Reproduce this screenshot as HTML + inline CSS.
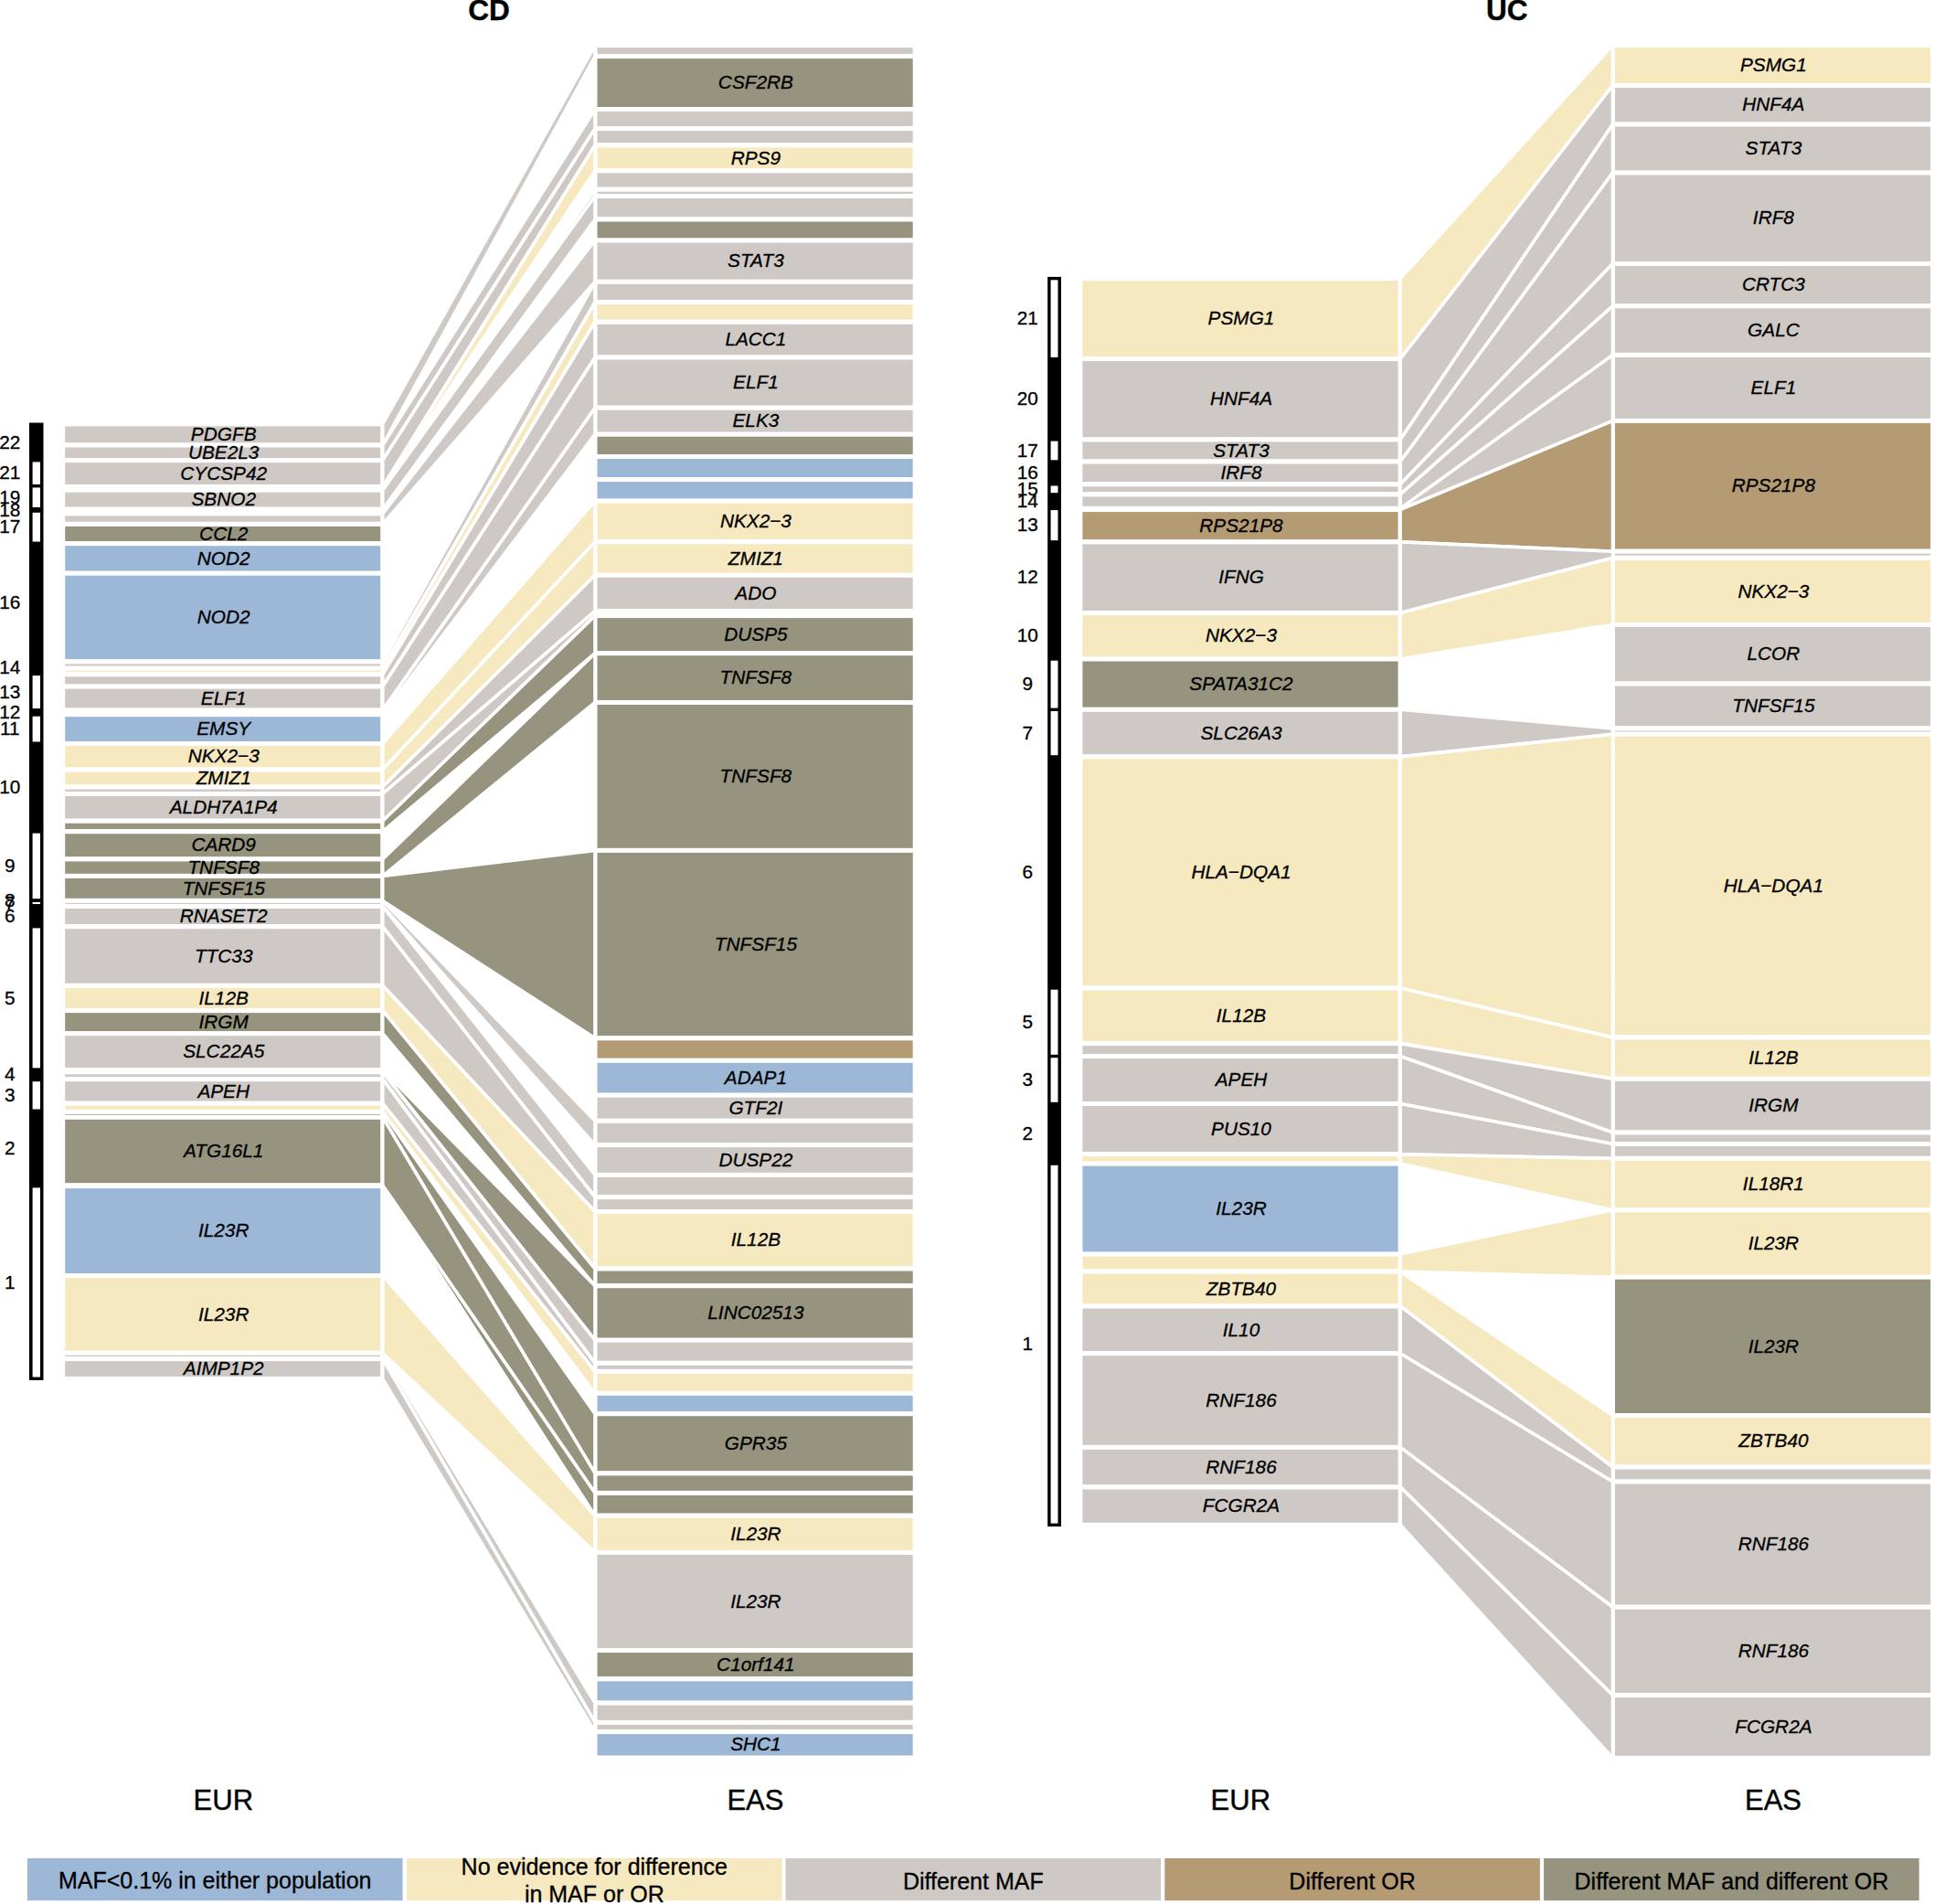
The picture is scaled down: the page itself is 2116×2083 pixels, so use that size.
<!DOCTYPE html>
<html lang="en"><head><meta charset="utf-8"><title>CD / UC loci comparison EUR vs EAS</title>
<style>
html,body{margin:0;padding:0;background:#fff}
body{width:2116px;height:2083px;overflow:hidden}
svg{display:block}
text{font-family:"Liberation Sans",Arial,Helvetica,sans-serif;fill:#000;text-anchor:middle;stroke:#000;stroke-width:.3px;stroke-linejoin:round}
.gene text{font-size:20.8px;font-style:italic}
.chr text{font-size:20.8px}
.ttl text{font-size:31.5px;font-weight:bold;stroke-width:.4px}
.pop text{font-size:31px;stroke-width:.4px}
.leg text{font-size:25px}
</style></head><body>
<svg width="2116" height="2083" viewBox="0 0 2116 2083">
<rect width="2116" height="2083" fill="#fff"/>
<g stroke="#fff" stroke-width="5">
<rect x="68.7" y="463.9" width="350" height="23.1" fill="#cfc9c6"/>
<rect x="68.7" y="487" width="350" height="16.6" fill="#cfc9c6"/>
<rect x="68.7" y="503.6" width="350" height="29" fill="#cfc9c6"/>
<rect x="68.7" y="532.6" width="350" height="2" fill="#f6e8bf"/>
<rect x="68.7" y="534.6" width="350" height="1.6" fill="#cfc9c6"/>
<rect x="68.7" y="536.2" width="350" height="21" fill="#cfc9c6"/>
<rect x="68.7" y="557.2" width="350" height="4.7" fill="#cfc9c6"/>
<rect x="68.7" y="561.9" width="350" height="11.5" fill="#cfc9c6"/>
<rect x="68.7" y="573.4" width="350" height="21.3" fill="#96947e"/>
<rect x="68.7" y="594.7" width="350" height="32.5" fill="#9db7d7"/>
<rect x="68.7" y="627.2" width="350" height="96.7" fill="#9db7d7"/>
<rect x="68.7" y="723.9" width="350" height="7.3" fill="#cfc9c6"/>
<rect x="68.7" y="731.2" width="350" height="6.6" fill="#f6e8bf"/>
<rect x="68.7" y="737.8" width="350" height="13.3" fill="#cfc9c6"/>
<rect x="68.7" y="751.1" width="350" height="26" fill="#cfc9c6"/>
<rect x="68.7" y="777.1" width="350" height="4.6" fill="#cfc9c6"/>
<rect x="68.7" y="781.7" width="350" height="31.8" fill="#9db7d7"/>
<rect x="68.7" y="813.5" width="350" height="28.5" fill="#f6e8bf"/>
<rect x="68.7" y="842" width="350" height="19" fill="#f6e8bf"/>
<rect x="68.7" y="861" width="350" height="7.5" fill="#cfc9c6"/>
<rect x="68.7" y="868.5" width="350" height="29.7" fill="#cfc9c6"/>
<rect x="68.7" y="898.2" width="350" height="11.5" fill="#96947e"/>
<rect x="68.7" y="909.7" width="350" height="30.2" fill="#96947e"/>
<rect x="68.7" y="939.9" width="350" height="18.5" fill="#96947e"/>
<rect x="68.7" y="958.4" width="350" height="27" fill="#96947e"/>
<rect x="68.7" y="985.4" width="350" height="6.1" fill="#cfc9c6"/>
<rect x="68.7" y="991.5" width="350" height="22.2" fill="#cfc9c6"/>
<rect x="68.7" y="1013.7" width="350" height="64.6" fill="#cfc9c6"/>
<rect x="68.7" y="1078.3" width="350" height="27.3" fill="#f6e8bf"/>
<rect x="68.7" y="1105.6" width="350" height="25.1" fill="#96947e"/>
<rect x="68.7" y="1130.7" width="350" height="39.8" fill="#cfc9c6"/>
<rect x="68.7" y="1170.5" width="350" height="2.3" fill="#96947e"/>
<rect x="68.7" y="1172.8" width="350" height="7.9" fill="#cfc9c6"/>
<rect x="68.7" y="1180.7" width="350" height="26.5" fill="#cfc9c6"/>
<rect x="68.7" y="1207.2" width="350" height="9.2" fill="#f6e8bf"/>
<rect x="68.7" y="1216.4" width="350" height="5.9" fill="#96947e"/>
<rect x="68.7" y="1222.3" width="350" height="74.6" fill="#96947e"/>
<rect x="68.7" y="1296.9" width="350" height="0.7" fill="#96947e"/>
<rect x="68.7" y="1297.6" width="350" height="97.9" fill="#9db7d7"/>
<rect x="68.7" y="1395.5" width="350" height="84.7" fill="#f6e8bf"/>
<rect x="68.7" y="1480.2" width="350" height="6.4" fill="#cfc9c6"/>
<rect x="68.7" y="1486.6" width="350" height="21.9" fill="#cfc9c6"/>
<rect x="651" y="49.6" width="350.2" height="12" fill="#cfc9c6"/>
<rect x="651" y="61.6" width="350.2" height="57.9" fill="#96947e"/>
<rect x="651" y="119.5" width="350.2" height="21.1" fill="#cfc9c6"/>
<rect x="651" y="140.6" width="350.2" height="18.3" fill="#cfc9c6"/>
<rect x="651" y="158.9" width="350.2" height="27.9" fill="#f6e8bf"/>
<rect x="651" y="186.8" width="350.2" height="20.4" fill="#cfc9c6"/>
<rect x="651" y="207.2" width="350.2" height="7.3" fill="#cfc9c6"/>
<rect x="651" y="214.5" width="350.2" height="25.5" fill="#cfc9c6"/>
<rect x="651" y="240" width="350.2" height="23" fill="#96947e"/>
<rect x="651" y="263" width="350.2" height="45.3" fill="#cfc9c6"/>
<rect x="651" y="308.3" width="350.2" height="22.4" fill="#cfc9c6"/>
<rect x="651" y="330.7" width="350.2" height="21.6" fill="#f6e8bf"/>
<rect x="651" y="352.3" width="350.2" height="38.7" fill="#cfc9c6"/>
<rect x="651" y="391" width="350.2" height="55.2" fill="#cfc9c6"/>
<rect x="651" y="446.2" width="350.2" height="29" fill="#cfc9c6"/>
<rect x="651" y="475.2" width="350.2" height="24.3" fill="#96947e"/>
<rect x="651" y="499.5" width="350.2" height="25.1" fill="#9db7d7"/>
<rect x="651" y="524.6" width="350.2" height="23.5" fill="#9db7d7"/>
<rect x="651" y="548.1" width="350.2" height="44.6" fill="#f6e8bf"/>
<rect x="651" y="592.7" width="350.2" height="36.6" fill="#f6e8bf"/>
<rect x="651" y="629.3" width="350.2" height="39.2" fill="#cfc9c6"/>
<rect x="651" y="668.5" width="350.2" height="5.1" fill="#cfc9c6"/>
<rect x="651" y="673.6" width="350.2" height="41.1" fill="#96947e"/>
<rect x="651" y="714.7" width="350.2" height="53.8" fill="#96947e"/>
<rect x="651" y="768.5" width="350.2" height="161.9" fill="#96947e"/>
<rect x="651" y="930.4" width="350.2" height="205.4" fill="#96947e"/>
<rect x="651" y="1135.8" width="350.2" height="24.5" fill="#b59b74"/>
<rect x="651" y="1160.3" width="350.2" height="37.9" fill="#9db7d7"/>
<rect x="651" y="1198.2" width="350.2" height="28.1" fill="#cfc9c6"/>
<rect x="651" y="1226.3" width="350.2" height="26.3" fill="#cfc9c6"/>
<rect x="651" y="1252.6" width="350.2" height="32.8" fill="#cfc9c6"/>
<rect x="651" y="1285.4" width="350.2" height="24.3" fill="#cfc9c6"/>
<rect x="651" y="1309.7" width="350.2" height="15.9" fill="#cfc9c6"/>
<rect x="651" y="1325.6" width="350.2" height="62.4" fill="#f6e8bf"/>
<rect x="651" y="1388" width="350.2" height="18.7" fill="#96947e"/>
<rect x="651" y="1406.7" width="350.2" height="59.5" fill="#96947e"/>
<rect x="651" y="1466.2" width="350.2" height="25.1" fill="#cfc9c6"/>
<rect x="651" y="1491.3" width="350.2" height="9.1" fill="#cfc9c6"/>
<rect x="651" y="1500.4" width="350.2" height="23.9" fill="#f6e8bf"/>
<rect x="651" y="1524.3" width="350.2" height="22.4" fill="#9db7d7"/>
<rect x="651" y="1546.7" width="350.2" height="65.2" fill="#96947e"/>
<rect x="651" y="1611.9" width="350.2" height="21.5" fill="#96947e"/>
<rect x="651" y="1633.4" width="350.2" height="24.8" fill="#96947e"/>
<rect x="651" y="1658.2" width="350.2" height="40.2" fill="#f6e8bf"/>
<rect x="651" y="1698.4" width="350.2" height="107.1" fill="#cfc9c6"/>
<rect x="651" y="1805.5" width="350.2" height="31.3" fill="#96947e"/>
<rect x="651" y="1836.8" width="350.2" height="26.3" fill="#9db7d7"/>
<rect x="651" y="1863.1" width="350.2" height="21.3" fill="#cfc9c6"/>
<rect x="651" y="1884.4" width="350.2" height="10.2" fill="#cfc9c6"/>
<rect x="651" y="1894.6" width="350.2" height="28.4" fill="#9db7d7"/>
</g>
<g stroke="#fff" stroke-width="3.6" stroke-linejoin="miter">
<path fill="#cfc9c6" d="M418.7 463.9L651 49.6L651 61.6L418.7 487Z"/>
<path fill="#cfc9c6" d="M418.7 487L651 119.5L651 140.6L418.7 503.6Z"/>
<path fill="#cfc9c6" d="M418.7 503.6L651 140.6L651 158.9L418.7 532.6Z"/>
<path fill="#f6e8bf" d="M418.7 532.6L651 158.9L651 186.8L418.7 534.6Z"/>
<path fill="#cfc9c6" d="M418.7 534.6L651 207.2L651 214.5L418.7 536.2Z"/>
<path fill="#cfc9c6" d="M418.7 536.2L651 214.5L651 240L418.7 557.2Z"/>
<path fill="#cfc9c6" d="M418.7 561.9L651 263L651 308.3L418.7 573.4Z"/>
<path fill="#cfc9c6" d="M418.7 723.9L651 308.3L651 330.7L418.7 731.2Z"/>
<path fill="#f6e8bf" d="M418.7 731.2L651 330.7L651 352.3L418.7 737.8Z"/>
<path fill="#cfc9c6" d="M418.7 737.8L651 352.3L651 391L418.7 751.1Z"/>
<path fill="#cfc9c6" d="M418.7 751.1L651 391L651 446.2L418.7 777.1Z"/>
<path fill="#cfc9c6" d="M418.7 777.1L651 446.2L651 475.2L418.7 781.7Z"/>
<path fill="#f6e8bf" d="M418.7 813.5L651 548.1L651 592.7L418.7 842Z"/>
<path fill="#f6e8bf" d="M418.7 842L651 592.7L651 629.3L418.7 861Z"/>
<path fill="#cfc9c6" d="M418.7 861L651 629.3L651 668.5L418.7 868.5Z"/>
<path fill="#cfc9c6" d="M418.7 868.5L651 668.5L651 673.6L418.7 898.2Z"/>
<path fill="#96947e" d="M418.7 898.2L651 673.6L651 714.7L418.7 909.7Z"/>
<path fill="#96947e" d="M418.7 939.9L651 714.7L651 768.5L418.7 958.4Z"/>
<path fill="#96947e" d="M418.7 958.4L651 930.4L651 1135.8L418.7 985.4Z"/>
<path fill="#cfc9c6" d="M418.7 985.4L651 1226.3L651 1252.6L418.7 991.5Z"/>
<path fill="#cfc9c6" d="M418.7 991.5L651 1285.4L651 1309.7L418.7 1013.7Z"/>
<path fill="#cfc9c6" d="M418.7 1013.7L651 1309.7L651 1325.6L418.7 1078.3Z"/>
<path fill="#f6e8bf" d="M418.7 1078.3L651 1325.6L651 1388L418.7 1105.6Z"/>
<path fill="#96947e" d="M418.7 1105.6L651 1388L651 1406.7L418.7 1130.7Z"/>
<path fill="#96947e" d="M418.7 1170.5L651 1406.7L651 1466.2L418.7 1172.8Z"/>
<path fill="#cfc9c6" d="M418.7 1172.8L651 1466.2L651 1491.3L418.7 1180.7Z"/>
<path fill="#cfc9c6" d="M418.7 1180.7L651 1491.3L651 1500.4L418.7 1207.2Z"/>
<path fill="#f6e8bf" d="M418.7 1207.2L651 1500.4L651 1524.3L418.7 1216.4Z"/>
<path fill="#96947e" d="M418.7 1216.4L651 1546.7L651 1611.9L418.7 1222.3Z"/>
<path fill="#96947e" d="M418.7 1222.3L651 1611.9L651 1633.4L418.7 1296.9Z"/>
<path fill="#96947e" d="M418.7 1296.9L651 1633.4L651 1658.2L418.7 1297.6Z"/>
<path fill="#f6e8bf" d="M418.7 1395.5L651 1658.2L651 1698.4L418.7 1480.2Z"/>
<path fill="#cfc9c6" d="M418.7 1480.2L651 1863.1L651 1884.4L418.7 1486.6Z"/>
<path fill="#cfc9c6" d="M418.7 1486.6L651 1884.4L651 1894.6L418.7 1508.5Z"/>
</g>
<g class="gene">
<text x="244.7" y="482.1">PDGFB</text>
<text x="244.7" y="501.9">UBE2L3</text>
<text x="244.7" y="524.7">CYCSP42</text>
<text x="244.7" y="553.3">SBNO2</text>
<text x="244.7" y="590.7">CCL2</text>
<text x="244.7" y="617.6">NOD2</text>
<text x="244.7" y="682.2">NOD2</text>
<text x="244.7" y="770.7">ELF1</text>
<text x="244.7" y="804.2">EMSY</text>
<text x="244.7" y="834.4">NKX2−3</text>
<text x="244.7" y="858.1">ZMIZ1</text>
<text x="244.7" y="890">ALDH7A1P4</text>
<text x="244.7" y="931.4">CARD9</text>
<text x="244.7" y="955.8">TNFSF8</text>
<text x="244.7" y="978.5">TNFSF15</text>
<text x="244.7" y="1009.2">RNASET2</text>
<text x="244.7" y="1052.6">TTC33</text>
<text x="244.7" y="1098.6">IL12B</text>
<text x="244.7" y="1124.8">IRGM</text>
<text x="244.7" y="1157.2">SLC22A5</text>
<text x="244.7" y="1200.6">APEH</text>
<text x="244.7" y="1266.2">ATG16L1</text>
<text x="244.7" y="1353.2">IL23R</text>
<text x="244.7" y="1444.5">IL23R</text>
<text x="244.7" y="1504.2">AIMP1P2</text>
<text x="826.9" y="97.2">CSF2RB</text>
<text x="826.9" y="179.5">RPS9</text>
<text x="826.9" y="292.3">STAT3</text>
<text x="826.9" y="378.3">LACC1</text>
<text x="826.9" y="425.2">ELF1</text>
<text x="826.9" y="467.3">ELK3</text>
<text x="826.9" y="577">NKX2−3</text>
<text x="826.9" y="617.6">ZMIZ1</text>
<text x="826.9" y="655.5">ADO</text>
<text x="826.9" y="700.8">DUSP5</text>
<text x="826.9" y="748.2">TNFSF8</text>
<text x="826.9" y="856.1">TNFSF8</text>
<text x="826.9" y="1039.7">TNFSF15</text>
<text x="826.9" y="1185.9">ADAP1</text>
<text x="826.9" y="1218.9">GTF2I</text>
<text x="826.9" y="1275.6">DUSP22</text>
<text x="826.9" y="1363.4">IL12B</text>
<text x="826.9" y="1443.1">LINC02513</text>
<text x="826.9" y="1585.9">GPR35</text>
<text x="826.9" y="1684.9">IL23R</text>
<text x="826.9" y="1758.6">IL23R</text>
<text x="826.9" y="1827.8">C1orf141</text>
<text x="826.9" y="1915.4">SHC1</text>
</g>
<g stroke="#fff" stroke-width="5">
<rect x="1181.9" y="304.6" width="350.2" height="88" fill="#f6e8bf"/>
<rect x="1181.9" y="392.6" width="350.2" height="88.3" fill="#cfc9c6"/>
<rect x="1181.9" y="480.9" width="350.2" height="24.1" fill="#cfc9c6"/>
<rect x="1181.9" y="505" width="350.2" height="24.8" fill="#cfc9c6"/>
<rect x="1181.9" y="529.8" width="350.2" height="11.1" fill="#cfc9c6"/>
<rect x="1181.9" y="540.9" width="350.2" height="15.5" fill="#cfc9c6"/>
<rect x="1181.9" y="556.4" width="350.2" height="1.2" fill="#cfc9c6"/>
<rect x="1181.9" y="557.6" width="350.2" height="35.3" fill="#b59b74"/>
<rect x="1181.9" y="592.9" width="350.2" height="77.6" fill="#cfc9c6"/>
<rect x="1181.9" y="670.5" width="350.2" height="50.5" fill="#f6e8bf"/>
<rect x="1181.9" y="721" width="350.2" height="55.3" fill="#96947e"/>
<rect x="1181.9" y="776.3" width="350.2" height="51.6" fill="#cfc9c6"/>
<rect x="1181.9" y="827.9" width="350.2" height="253.1" fill="#f6e8bf"/>
<rect x="1181.9" y="1081" width="350.2" height="60.6" fill="#f6e8bf"/>
<rect x="1181.9" y="1141.6" width="350.2" height="13.9" fill="#cfc9c6"/>
<rect x="1181.9" y="1155.5" width="350.2" height="52" fill="#cfc9c6"/>
<rect x="1181.9" y="1207.5" width="350.2" height="55.2" fill="#cfc9c6"/>
<rect x="1181.9" y="1262.7" width="350.2" height="10.4" fill="#f6e8bf"/>
<rect x="1181.9" y="1273.1" width="350.2" height="99" fill="#9db7d7"/>
<rect x="1181.9" y="1372.1" width="350.2" height="18.9" fill="#f6e8bf"/>
<rect x="1181.9" y="1391" width="350.2" height="38" fill="#f6e8bf"/>
<rect x="1181.9" y="1429" width="350.2" height="51.7" fill="#cfc9c6"/>
<rect x="1181.9" y="1480.7" width="350.2" height="102.7" fill="#cfc9c6"/>
<rect x="1181.9" y="1583.4" width="350.2" height="43.5" fill="#cfc9c6"/>
<rect x="1181.9" y="1626.9" width="350.2" height="41.4" fill="#cfc9c6"/>
<rect x="1764.5" y="49.6" width="350.2" height="43.9" fill="#f6e8bf"/>
<rect x="1764.5" y="93.5" width="350.2" height="42.5" fill="#cfc9c6"/>
<rect x="1764.5" y="136" width="350.2" height="53" fill="#cfc9c6"/>
<rect x="1764.5" y="189" width="350.2" height="99.5" fill="#cfc9c6"/>
<rect x="1764.5" y="288.5" width="350.2" height="46.3" fill="#cfc9c6"/>
<rect x="1764.5" y="334.8" width="350.2" height="53.6" fill="#cfc9c6"/>
<rect x="1764.5" y="388.4" width="350.2" height="72" fill="#cfc9c6"/>
<rect x="1764.5" y="460.4" width="350.2" height="142.8" fill="#b59b74"/>
<rect x="1764.5" y="603.2" width="350.2" height="7.1" fill="#cfc9c6"/>
<rect x="1764.5" y="610.3" width="350.2" height="73.1" fill="#f6e8bf"/>
<rect x="1764.5" y="683.4" width="350.2" height="64.6" fill="#cfc9c6"/>
<rect x="1764.5" y="748" width="350.2" height="48.9" fill="#cfc9c6"/>
<rect x="1764.5" y="796.9" width="350.2" height="6.3" fill="#cfc9c6"/>
<rect x="1764.5" y="803.2" width="350.2" height="331.8" fill="#f6e8bf"/>
<rect x="1764.5" y="1135" width="350.2" height="45.3" fill="#f6e8bf"/>
<rect x="1764.5" y="1180.3" width="350.2" height="58.7" fill="#cfc9c6"/>
<rect x="1764.5" y="1239" width="350.2" height="12.5" fill="#cfc9c6"/>
<rect x="1764.5" y="1251.5" width="350.2" height="15.9" fill="#cfc9c6"/>
<rect x="1764.5" y="1267.4" width="350.2" height="56.4" fill="#f6e8bf"/>
<rect x="1764.5" y="1323.8" width="350.2" height="73.4" fill="#f6e8bf"/>
<rect x="1764.5" y="1397.2" width="350.2" height="151.4" fill="#96947e"/>
<rect x="1764.5" y="1548.6" width="350.2" height="56.4" fill="#f6e8bf"/>
<rect x="1764.5" y="1605" width="350.2" height="16" fill="#cfc9c6"/>
<rect x="1764.5" y="1621" width="350.2" height="137.2" fill="#cfc9c6"/>
<rect x="1764.5" y="1758.2" width="350.2" height="96.4" fill="#cfc9c6"/>
<rect x="1764.5" y="1854.6" width="350.2" height="68.7" fill="#cfc9c6"/>
</g>
<g stroke="#fff" stroke-width="3.6" stroke-linejoin="miter">
<path fill="#f6e8bf" d="M1532.1 304.6L1764.5 49.6L1764.5 93.5L1532.1 392.6Z"/>
<path fill="#cfc9c6" d="M1532.1 392.6L1764.5 93.5L1764.5 136L1532.1 480.9Z"/>
<path fill="#cfc9c6" d="M1532.1 480.9L1764.5 136L1764.5 189L1532.1 505Z"/>
<path fill="#cfc9c6" d="M1532.1 505L1764.5 189L1764.5 288.5L1532.1 529.8Z"/>
<path fill="#cfc9c6" d="M1532.1 529.8L1764.5 288.5L1764.5 334.8L1532.1 540.9Z"/>
<path fill="#cfc9c6" d="M1532.1 540.9L1764.5 334.8L1764.5 388.4L1532.1 556.4Z"/>
<path fill="#cfc9c6" d="M1532.1 556.4L1764.5 388.4L1764.5 460.4L1532.1 557.6Z"/>
<path fill="#b59b74" d="M1532.1 557.6L1764.5 460.4L1764.5 603.2L1532.1 592.9Z"/>
<path fill="#cfc9c6" d="M1532.1 592.9L1764.5 603.2L1764.5 610.3L1532.1 670.5Z"/>
<path fill="#f6e8bf" d="M1532.1 670.5L1764.5 610.3L1764.5 683.4L1532.1 721Z"/>
<path fill="#cfc9c6" d="M1532.1 776.3L1764.5 796.9L1764.5 803.2L1532.1 827.9Z"/>
<path fill="#f6e8bf" d="M1532.1 827.9L1764.5 803.2L1764.5 1135L1532.1 1081Z"/>
<path fill="#f6e8bf" d="M1532.1 1081L1764.5 1135L1764.5 1180.3L1532.1 1141.6Z"/>
<path fill="#cfc9c6" d="M1532.1 1141.6L1764.5 1180.3L1764.5 1239L1532.1 1155.5Z"/>
<path fill="#cfc9c6" d="M1532.1 1155.5L1764.5 1239L1764.5 1251.5L1532.1 1207.5Z"/>
<path fill="#cfc9c6" d="M1532.1 1207.5L1764.5 1251.5L1764.5 1267.4L1532.1 1262.7Z"/>
<path fill="#f6e8bf" d="M1532.1 1262.7L1764.5 1267.4L1764.5 1323.8L1532.1 1273.1Z"/>
<path fill="#f6e8bf" d="M1532.1 1372.1L1764.5 1323.8L1764.5 1397.2L1532.1 1391Z"/>
<path fill="#f6e8bf" d="M1532.1 1391L1764.5 1548.6L1764.5 1605L1532.1 1429Z"/>
<path fill="#cfc9c6" d="M1532.1 1429L1764.5 1605L1764.5 1621L1532.1 1480.7Z"/>
<path fill="#cfc9c6" d="M1532.1 1480.7L1764.5 1621L1764.5 1758.2L1532.1 1583.4Z"/>
<path fill="#cfc9c6" d="M1532.1 1583.4L1764.5 1758.2L1764.5 1854.6L1532.1 1626.9Z"/>
<path fill="#cfc9c6" d="M1532.1 1626.9L1764.5 1854.6L1764.5 1923.3L1532.1 1668.3Z"/>
</g>
<g class="gene">
<text x="1358" y="355.2">PSMG1</text>
<text x="1358" y="443.4">HNF4A</text>
<text x="1358" y="499.6">STAT3</text>
<text x="1358" y="524">IRF8</text>
<text x="1358" y="581.9">RPS21P8</text>
<text x="1358" y="638.3">IFNG</text>
<text x="1358" y="702.4">NKX2−3</text>
<text x="1358" y="755.3">SPATA31C2</text>
<text x="1358" y="808.7">SLC26A3</text>
<text x="1358" y="961.1">HLA−DQA1</text>
<text x="1358" y="1117.9">IL12B</text>
<text x="1358" y="1188.1">APEH</text>
<text x="1358" y="1241.7">PUS10</text>
<text x="1358" y="1329.2">IL23R</text>
<text x="1358" y="1416.6">ZBTB40</text>
<text x="1358" y="1461.5">IL10</text>
<text x="1358" y="1538.7">RNF186</text>
<text x="1358" y="1611.8">RNF186</text>
<text x="1358" y="1654.2">FCGR2A</text>
<text x="1940.4" y="78.2">PSMG1</text>
<text x="1940.4" y="121.4">HNF4A</text>
<text x="1940.4" y="169.1">STAT3</text>
<text x="1940.4" y="245.4">IRF8</text>
<text x="1940.4" y="318.3">CRTC3</text>
<text x="1940.4" y="368.2">GALC</text>
<text x="1940.4" y="431">ELF1</text>
<text x="1940.4" y="538.4">RPS21P8</text>
<text x="1940.4" y="653.5">NKX2−3</text>
<text x="1940.4" y="722.3">LCOR</text>
<text x="1940.4" y="779.1">TNFSF15</text>
<text x="1940.4" y="975.7">HLA−DQA1</text>
<text x="1940.4" y="1164.3">IL12B</text>
<text x="1940.4" y="1216.3">IRGM</text>
<text x="1940.4" y="1302.2">IL18R1</text>
<text x="1940.4" y="1367.1">IL23R</text>
<text x="1940.4" y="1479.5">IL23R</text>
<text x="1940.4" y="1583.4">ZBTB40</text>
<text x="1940.4" y="1696.2">RNF186</text>
<text x="1940.4" y="1813">RNF186</text>
<text x="1940.4" y="1895.6">FCGR2A</text>
</g>
<rect x="32" y="462.5" width="15.5" height="1047.4" fill="#000"/>
<rect x="35.6" y="505.4" width="8.4" height="24.5" fill="#fff"/>
<rect x="35.6" y="533.4" width="8.4" height="21.6" fill="#fff"/>
<rect x="35.6" y="560.8" width="8.4" height="31.8" fill="#fff"/>
<rect x="35.6" y="739.1" width="8.4" height="36" fill="#fff"/>
<rect x="35.6" y="783.7" width="8.4" height="27.8" fill="#fff"/>
<rect x="35.6" y="911.6" width="8.4" height="71.6" fill="#fff"/>
<rect x="35.6" y="986.9" width="8.4" height="2.1" fill="#fff"/>
<rect x="35.6" y="1015.4" width="8.4" height="153" fill="#fff"/>
<rect x="35.6" y="1183.2" width="8.4" height="30.3" fill="#fff"/>
<rect x="35.6" y="1299.4" width="8.4" height="207.1" fill="#fff"/>
<g class="chr">
<text x="10.7" y="490.6">22</text>
<text x="10.7" y="524.3">21</text>
<text x="10.7" y="550.8">19</text>
<text x="10.7" y="564.5">18</text>
<text x="10.7" y="583.3">17</text>
<text x="10.7" y="665.7">16</text>
<text x="10.7" y="737.3">14</text>
<text x="10.7" y="763.7">13</text>
<text x="10.7" y="786">12</text>
<text x="10.7" y="804.2">11</text>
<text x="10.7" y="868.2">10</text>
<text x="10.7" y="954">9</text>
<text x="10.7" y="991.7">8</text>
<text x="10.7" y="994.6">7</text>
<text x="10.7" y="1008.8">6</text>
<text x="10.7" y="1098.5">5</text>
<text x="10.7" y="1182.4">4</text>
<text x="10.7" y="1205">3</text>
<text x="10.7" y="1263.1">2</text>
<text x="10.7" y="1409.6">1</text>
</g>
<rect x="1146.2" y="302.9" width="14.8" height="1367.1" fill="#000"/>
<rect x="1149.6" y="306.3" width="7.9" height="84.6" fill="#fff"/>
<rect x="1149.6" y="482.6" width="7.9" height="20.7" fill="#fff"/>
<rect x="1149.6" y="531.5" width="7.9" height="7.7" fill="#fff"/>
<rect x="1149.6" y="558.1" width="7.9" height="33.1" fill="#fff"/>
<rect x="1149.6" y="722.7" width="7.9" height="51.9" fill="#fff"/>
<rect x="1149.6" y="778" width="7.9" height="48.2" fill="#fff"/>
<rect x="1149.6" y="1082.7" width="7.9" height="71.1" fill="#fff"/>
<rect x="1149.6" y="1157.2" width="7.9" height="48.6" fill="#fff"/>
<rect x="1149.6" y="1274.8" width="7.9" height="391.8" fill="#fff"/>
<g class="chr">
<text x="1124.2" y="355.2">21</text>
<text x="1124.2" y="443.4">20</text>
<text x="1124.2" y="499.6">17</text>
<text x="1124.2" y="524">16</text>
<text x="1124.2" y="542">15</text>
<text x="1124.2" y="555.3">14</text>
<text x="1124.2" y="581.3">13</text>
<text x="1124.2" y="638.3">12</text>
<text x="1124.2" y="702.4">10</text>
<text x="1124.2" y="755.3">9</text>
<text x="1124.2" y="808.7">7</text>
<text x="1124.2" y="961.1">6</text>
<text x="1124.2" y="1124.9">5</text>
<text x="1124.2" y="1188.1">3</text>
<text x="1124.2" y="1246.9">2</text>
<text x="1124.2" y="1477.3">1</text>
</g>
<g class="ttl"><text x="534.9" y="22.4">CD</text><text x="1648.8" y="22.4">UC</text></g>
<g class="pop"><text x="244.3" y="1979.8">EUR</text><text x="826.4" y="1979.8">EAS</text><text x="1357.3" y="1979.8">EUR</text><text x="1940" y="1979.8">EAS</text></g>
<rect x="29.9" y="2033" width="410.6" height="46.2" fill="#9db7d7"/>
<rect x="445" y="2033" width="410.6" height="46.2" fill="#f6e8bf"/>
<rect x="859.5" y="2033" width="410.6" height="46.2" fill="#cfc9c6"/>
<rect x="1274.3" y="2033" width="410.6" height="46.2" fill="#b59b74"/>
<rect x="1689.1" y="2033" width="410.6" height="46.2" fill="#96947e"/>
<g class="leg">
<text x="235.2" y="2065.6">MAF&lt;0.1% in either population</text>
<text x="650.3" y="2051.4">No evidence for difference</text>
<text x="650.3" y="2081.2">in MAF or OR</text>
<text x="1064.8" y="2066.6">Different MAF</text>
<text x="1479.6" y="2066.6">Different OR</text>
<text x="1894.4" y="2066.6">Different MAF and different OR</text>
</g>
</svg>
</body></html>
